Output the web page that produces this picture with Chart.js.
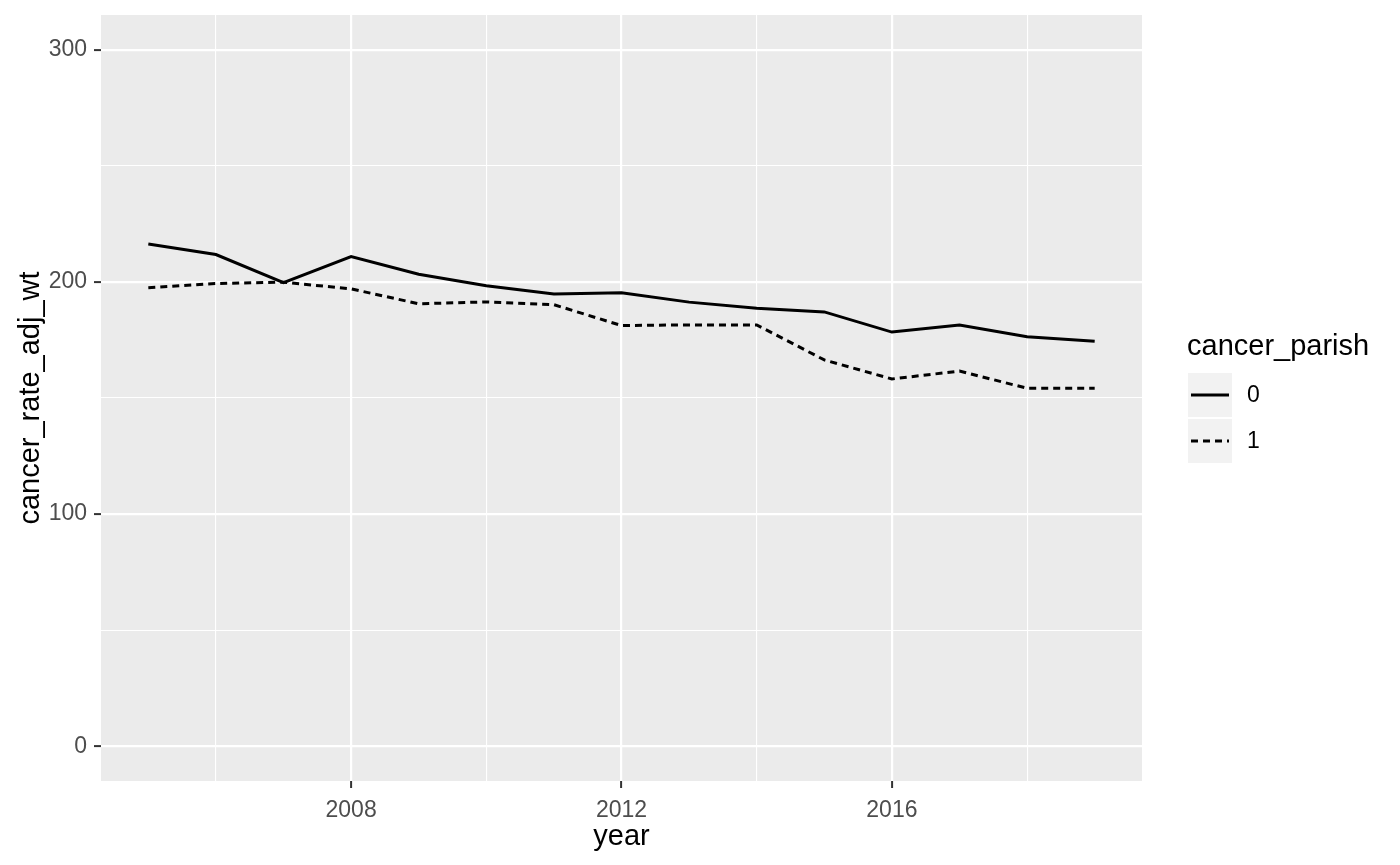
<!DOCTYPE html>
<html>
<head>
<meta charset="utf-8">
<script src="https://cdn.jsdelivr.net/npm/chart.js@4.4.1/dist/chart.umd.min.js"></script>
<style>
  html, body { margin: 0; padding: 0; background: #ffffff; }
  #wrap { width: 1400px; height: 865px; position: relative; }
</style>
</head>
<body>
<div id="wrap"><canvas id="lineChart"></canvas></div>
<script>
// 데이터
const years = [2005, 2006, 2007, 2008, 2009, 2010, 2011, 2012, 2013, 2014, 2015, 2016, 2017, 2018, 2019];
const parish0 = [216.3, 211.8, 199.7, 210.9, 203.3, 198.4, 194.8, 195.3, 191.3, 188.7, 187.1, 178.4, 181.4, 176.4, 174.4];
const parish1 = [197.5, 199.3, 199.9, 197.0, 190.6, 191.4, 190.2, 181.2, 181.5, 181.5, 166.4, 158.2, 161.6, 154.2, 154.2];
const seriesNames = ["0", "1"];
const legendTitle = "cancer_parish";

// 눈금
const xBreaks = [2006, 2008, 2010, 2012, 2014, 2016, 2018];
const xTickLabels = [2008, 2012, 2016];
const yBreaks = [0, 50, 100, 150, 200, 250, 300];
const yTickLabels = [0, 100, 200, 300];

const FONT = "'Liberation Sans', Arial, Helvetica, sans-serif";
const dashes = [[], [7, 5]];

let lineChartInstance = null;

// 패널 배경 (ggplot 회색)
const panelBgPlugin = {
  id: "panelBg",
  beforeDraw(chart) {
    const { ctx, chartArea } = chart;
    ctx.save();
    ctx.fillStyle = "#EBEBEB";
    ctx.fillRect(chartArea.left, chartArea.top, chartArea.right - chartArea.left, chartArea.bottom - chartArea.top);
    ctx.restore();
  }
};

// 오른쪽 범례
const legendPlugin = {
  id: "ggLegend",
  afterDraw(chart) {
    const { ctx, chartArea } = chart;
    const left = chartArea.right + 45;
    const keySize = 46;
    const firstTop = 372;

    ctx.save();
    ctx.fillStyle = "#000000";
    ctx.font = `29px ${FONT}`;
    ctx.textBaseline = "alphabetic";
    ctx.textAlign = "left";
    ctx.fillText(legendTitle, left, 355);

    seriesNames.forEach((name, i) => {
      const top = firstTop + i * keySize;
      ctx.fillStyle = "#F2F2F2";
      ctx.fillRect(left, top, keySize, keySize);
      ctx.strokeStyle = "#ffffff";
      ctx.lineWidth = 1;
      ctx.strokeRect(left + 0.5, top + 0.5, keySize - 1, keySize - 1);

      ctx.strokeStyle = "#000000";
      ctx.lineWidth = 3;
      ctx.setLineDash(dashes[i]);
      ctx.beginPath();
      ctx.moveTo(left + 4, top + keySize / 2);
      ctx.lineTo(left + keySize - 4, top + keySize / 2);
      ctx.stroke();
      ctx.setLineDash([]);

      ctx.fillStyle = "#000000";
      ctx.font = `23px ${FONT}`;
      ctx.textBaseline = "middle";
      ctx.fillText(name, left + 60, top + keySize / 2 + 1);
    });
    ctx.restore();
  }
};

function makePoints(values) {
  return years.map((year, i) => ({ x: year, y: values[i] }));
}

function renderLineChart() {
  const canvas = document.getElementById("lineChart");
  if (!canvas) return;
  const ctx = canvas.getContext("2d");

  if (lineChartInstance) {
    lineChartInstance.destroy();
  }

  lineChartInstance = new Chart(ctx, {
    type: "line",
    data: {
      datasets: [
        {
          label: seriesNames[0],
          data: makePoints(parish0),
          borderColor: "#000000",
          borderWidth: 3,
          pointRadius: 0,
          tension: 0
        },
        {
          label: seriesNames[1],
          data: makePoints(parish1),
          borderColor: "#000000",
          borderWidth: 3,
          borderDash: dashes[1],
          pointRadius: 0,
          tension: 0
        }
      ]
    },
    options: {
      responsive: true,
      maintainAspectRatio: false,
      animation: false,
      layout: {
        padding: { top: 15, right: 258, bottom: 0, left: 0 }
      },
      plugins: {
        legend: { display: false },
        tooltip: { enabled: false }
      },
      scales: {
        x: {
          type: "linear",
          min: 2004.3,
          max: 2019.7,
          afterBuildTicks(scale) {
            scale.ticks = xBreaks.map((v) => ({ value: v }));
          },
          afterFit(scale) {
            scale.height = 84;
            scale.paddingLeft = 0;
            scale.paddingRight = 0;
          },
          border: { display: false },
          grid: {
            color: "#ffffff",
            lineWidth: (c) => (xTickLabels.includes(c.tick && c.tick.value) ? 2.2 : 1.1),
            drawTicks: true,
            tickLength: 7,
            tickWidth: 2,
            tickColor: (c) => (xTickLabels.includes(c.tick && c.tick.value) ? "#333333" : "rgba(0,0,0,0)")
          },
          ticks: {
            autoSkip: false,
            maxRotation: 0,
            minRotation: 0,
            padding: 9,
            color: "#4D4D4D",
            font: { family: FONT, size: 23 },
            callback: (v) => (xTickLabels.includes(v) ? String(v) : "")
          },
          title: {
            display: true,
            text: "year",
            color: "#000000",
            font: { family: FONT, size: 29 },
            padding: { top: 0, bottom: 11 }
          }
        },
        y: {
          type: "linear",
          min: -15,
          max: 315,
          afterBuildTicks(scale) {
            scale.ticks = yBreaks.map((v) => ({ value: v }));
          },
          afterFit(scale) {
            scale.width = 101;
            scale.paddingTop = 0;
            scale.paddingBottom = 0;
          },
          border: { display: false },
          grid: {
            color: "#ffffff",
            lineWidth: (c) => (yTickLabels.includes(c.tick && c.tick.value) ? 2.2 : 1.1),
            drawTicks: true,
            tickLength: 7,
            tickWidth: 2,
            tickColor: (c) => (yTickLabels.includes(c.tick && c.tick.value) ? "#333333" : "rgba(0,0,0,0)")
          },
          ticks: {
            autoSkip: false,
            padding: 7,
            color: "#4D4D4D",
            font: { family: FONT, size: 23 },
            callback: (v) => (yTickLabels.includes(v) ? String(v) : "")
          },
          title: {
            display: true,
            text: "cancer_rate_adj_wt",
            color: "#000000",
            font: { family: FONT, size: 29 },
            padding: { top: 14, bottom: 0 }
          }
        }
      }
    },
    plugins: [panelBgPlugin, legendPlugin]
  });
}

renderLineChart();
</script>
</body>
</html>
